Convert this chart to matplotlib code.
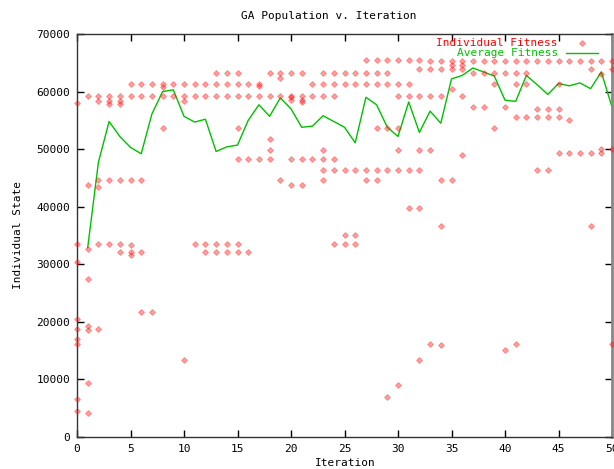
import numpy as np
import matplotlib
matplotlib.use('Agg')
import matplotlib.pyplot as plt
from matplotlib.lines import Line2D

# individual fitness values per iteration (index = iteration)
individual_fitness = [
    [58000, 33500, 30400, 20500, 18800, 17000, 16200, 6600, 4600],          # 0
    [59300, 43800, 32600, 27400, 19200, 18500, 9300, 4100],                 # 1
    [59300, 58300, 44600, 43500, 33600, 18800],                             # 2
    [59300, 58300, 57900, 44600, 33600],                                    # 3
    [59300, 58300, 57900, 44600, 33600, 32100],                             # 4
    [61300, 59300, 44600, 33300, 32100, 31600],                             # 5
    [61300, 59300, 44600, 32100, 21700],                                    # 6
    [61300, 59300, 21700],                                                  # 7
    [61300, 60800, 59300, 53700],                                           # 8
    [61300, 59300],                                                         # 9
    [61300, 59300, 58400, 13300],                                           # 10
    [61300, 59300, 33600],                                                  # 11
    [61300, 59300, 33600, 32100],                                           # 12
    [63300, 61300, 59300, 33600, 32100],                                    # 13
    [63300, 61300, 59300, 33600, 32100],                                    # 14
    [63300, 61300, 59300, 53700, 48300, 33600, 32100],                      # 15
    [61300, 59300, 48300, 32100],                                           # 16
    [61300, 60900, 59300, 48300],                                           # 17
    [63300, 59300, 51800, 49900, 48300],                                    # 18
    [63300, 62400, 59300, 44600],                                           # 19
    [63300, 59300, 59000, 58600, 48300, 43800],                             # 20
    [63300, 59300, 58600, 58200, 48300, 43800],                             # 21
    [61300, 59300, 48300],                                                  # 22
    [63300, 61300, 59300, 49900, 48300, 46400, 44600],                      # 23
    [63300, 61300, 59300, 48300, 46400, 33600],                             # 24
    [63300, 61300, 46400, 35100, 33600],                                    # 25
    [63300, 61300, 46400, 35100, 33600],                                    # 26
    [65400, 63300, 61300, 46400, 44600],                                    # 27
    [65400, 63300, 61300, 53700, 46400, 44600],                             # 28
    [65400, 63300, 61300, 53700, 46400, 6900],                              # 29
    [65400, 61300, 59300, 53700, 49900, 46400, 9000],                       # 30
    [65400, 61300, 59300, 46400, 39800],                                    # 31
    [65400, 64000, 59300, 49900, 46400, 39800, 13300],                      # 32
    [65300, 64000, 59300, 49900, 16100],                                    # 33
    [65300, 64000, 59300, 44600, 36700, 15900],                             # 34
    [65300, 64600, 64000, 60400, 44600],                                    # 35
    [65300, 64600, 64000, 59300, 49000],                                    # 36
    [65300, 63300, 57400],                                                  # 37
    [65300, 63300, 57400],                                                  # 38
    [65300, 63300, 61300, 53700],                                           # 39
    [65300, 63300, 57400, 15100],                                           # 40
    [65300, 63300, 61300, 55600, 16100],                                    # 41
    [65300, 63300, 61300, 55600],                                           # 42
    [65300, 57000, 55600, 46400],                                           # 43
    [65300, 57000, 55600, 46400],                                           # 44
    [65300, 61300, 57000, 55600, 49400],                                    # 45
    [65300, 55100, 49400],                                                  # 46
    [65300, 49400],                                                         # 47
    [65300, 64000, 49400, 36700],                                           # 48
    [65300, 63000, 50000, 49400],                                           # 49
    [65300, 64000, 50000, 16100],                                           # 50
]

avg_iteration = list(range(1, 51))
avg_fitness = [32900, 47700, 54800, 52200, 50300, 49200, 56100, 60000, 60300, 55700,
               54700, 55200, 49600, 50400, 50700, 55000, 57700, 55700, 58900, 57000,
               53800, 54000, 55800, 54800, 53800, 51100, 59000, 57700, 53800, 52200,
               58200, 52900, 56600, 54500, 62200, 62800, 64100, 63400, 62700, 58500,
               58300, 62800, 61200, 59500, 61400, 61000, 61500, 60500, 63400, 57300]

x_ticks = list(range(0, 51, 5))
y_ticks = list(range(0, 70001, 10000))

plt.rcParams['font.family'] = ['DejaVu Sans Mono']

fig = plt.figure(figsize=(6.14, 4.69), dpi=100)
ax = fig.add_axes([77 / 614, 32 / 469, 535 / 614, 403 / 469])

marker_style = dict(marker='D', markersize=3.0,
                    markerfacecolor=(1, 0.1, 0.1, 0.42),
                    markeredgecolor=(1, 0.1, 0.1, 0.42),
                    markeredgewidth=0.6, linestyle='none')

# scatter of individuals
xs = [i for i, vals in enumerate(individual_fitness) for _ in vals]
ys = [v for vals in individual_fitness for v in vals]
ax.plot(xs, ys, clip_on=False, zorder=3, **marker_style)

# average line
ax.plot(avg_iteration, avg_fitness, color='#00c000', linewidth=1.0, zorder=2)

ax.set_xlim(0, 50)
ax.set_ylim(0, 70000)
ax.set_xticks(x_ticks)
ax.set_yticks(y_ticks)
ax.tick_params(direction='in', length=5, width=1, top=True, right=True,
               labelsize=8, pad=5, colors='#000000')
for s in ['left', 'bottom', 'top']:
    ax.spines[s].set_linewidth(1.0)
    ax.spines[s].set_color('#333333')
ax.spines['right'].set_color('#888888')
ax.spines['right'].set_linewidth(2.0)

fig.text(329 / 614, 1 - 16 / 469, 'GA Population v. Iteration', ha='center', va='center', fontsize=8)
fig.text(345 / 614, 1 - 463 / 469, 'Iteration', ha='center', va='center', fontsize=8)
fig.text(18 / 614, 1 - 235 / 469, 'Individual State', ha='center', va='center',
         rotation=90, fontsize=8)

# legend (gnuplot style: right aligned text, key sample on the right)
fig.text(558 / 614, 1 - 43 / 469, 'Individual Fitness', ha='right', va='center',
         fontsize=8, color='#ff0000')
fig.text(558 / 614, 1 - 53.5 / 469, 'Average Fitness', ha='right', va='center',
         fontsize=8, color='#00c000')
fig.add_artist(Line2D([582 / 614], [1 - 43 / 469], **marker_style))
fig.add_artist(Line2D([566 / 614, 598 / 614], [1 - 53.5 / 469, 1 - 53.5 / 469],
                      color='#00c000', linewidth=1.0))

fig.savefig('out.png', dpi=100)
